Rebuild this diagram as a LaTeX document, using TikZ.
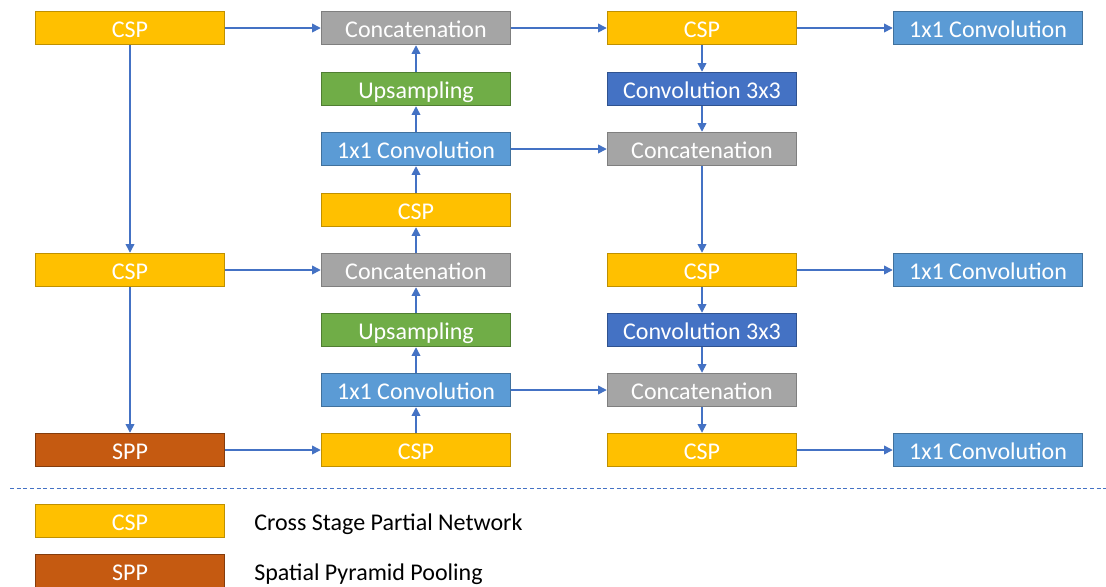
\documentclass[tikz,border=0pt]{standalone}
\usepackage{fontspec}
\setmainfont{Carlito}
\usetikzlibrary{arrows.meta}
\definecolor{cspfill}{HTML}{FFC000}\definecolor{cspdraw}{HTML}{BF9000}
\definecolor{catfill}{HTML}{A5A5A5}\definecolor{catdraw}{HTML}{7F7F7F}
\definecolor{upfill}{HTML}{70AD47}\definecolor{updraw}{HTML}{507E32}
\definecolor{onefill}{HTML}{5B9BD5}\definecolor{onedraw}{HTML}{41719C}
\definecolor{thrfill}{HTML}{4472C4}\definecolor{thrdraw}{HTML}{2F528F}
\definecolor{sppfill}{HTML}{C55A11}\definecolor{sppdraw}{HTML}{843C0C}
\definecolor{arr}{HTML}{4472C4}
\tikzset{
  box/.style={draw, line width=1.1pt, minimum width=141.75pt, minimum height=24.75pt, inner sep=0pt,
    text height=15pt, text depth=1.5pt,
    text=white, font=\fontsize{18}{20}\selectfont},
  csp/.style={box, fill=cspfill, draw=cspdraw},
  cat/.style={box, fill=catfill, draw=catdraw},
  ups/.style={box, fill=upfill, draw=updraw},
  one/.style={box, fill=onefill, draw=onedraw},
  thr/.style={box, fill=thrfill, draw=thrdraw},
  spp/.style={box, fill=sppfill, draw=sppdraw},
  conn/.style={draw=arr, line width=1.1pt, -{Triangle[length=6.5pt,width=6.5pt]}},
  legtext/.style={anchor=west, inner sep=0pt, text height=15pt, text depth=1.5pt, text=black, font=\fontsize{18}{20}\selectfont}
}
\begin{document}
\begin{tikzpicture}[x=0.75pt,y=-0.75pt]
\useasboundingbox (0,0) rectangle (1106,586);
% column 1
\node[csp] (a1) at (130,28) {CSP};
\node[csp] (a5) at (130,270) {CSP};
\node[spp] (a8) at (130,450) {SPP};
% column 2
\node[cat] (b1) at (416,28) {Concatenation};
\node[ups] (b2) at (416,89) {Upsampling};
\node[one] (b3) at (416,149) {1x1 Convolution};
\node[csp] (b4) at (416,210) {CSP};
\node[cat] (b5) at (416,270) {Concatenation};
\node[ups] (b6) at (416,330) {Upsampling};
\node[one] (b7) at (416,390) {1x1 Convolution};
\node[csp] (b8) at (416,450) {CSP};
% column 3
\node[csp] (c1) at (702,28) {CSP};
\node[thr] (c2) at (702,89) {Convolution 3x3};
\node[cat] (c3) at (702,149) {Concatenation};
\node[csp] (c5) at (702,270) {CSP};
\node[thr] (c6) at (702,330) {Convolution 3x3};
\node[cat] (c7) at (702,390) {Concatenation};
\node[csp] (c8) at (702,450) {CSP};
% column 4
\node[one] (d1) at (988,28) {1x1 Convolution};
\node[one] (d5) at (988,270) {1x1 Convolution};
\node[one] (d8) at (988,450) {1x1 Convolution};
% connectors
\draw[conn] (a1) -- (b1);
\draw[conn] (a1) -- (a5);
\draw[conn] (a5) -- (a8);
\draw[conn] (a5) -- (b5);
\draw[conn] (a8) -- (b8);
\draw[conn] (b8) -- (b7);
\draw[conn] (b7) -- (b6);
\draw[conn] (b6) -- (b5);
\draw[conn] (b5) -- (b4);
\draw[conn] (b4) -- (b3);
\draw[conn] (b3) -- (b2);
\draw[conn] (b2) -- (b1);
\draw[conn] (b1) -- (c1);
\draw[conn] (c1) -- (d1);
\draw[conn] (c1) -- (c2);
\draw[conn] (c2) -- (c3);
\draw[conn] (b3) -- (c3);
\draw[conn] (c3) -- (c5);
\draw[conn] (c5) -- (d5);
\draw[conn] (c5) -- (c6);
\draw[conn] (c6) -- (c7);
\draw[conn] (b7) -- (c7);
\draw[conn] (c7) -- (c8);
\draw[conn] (c8) -- (d8);
% separator
\coordinate (sepL) at (10,488);
\coordinate (sepR) at (1106,488);
\draw[arr, line width=0.75pt, dash pattern=on 3pt off 2pt] (sepL) -- (sepR);
% legend
\node[csp] (lcsp) at (130,521) {CSP};
\node[spp] (lspp) at (130,571) {SPP};
\node[legtext] (tcsp) at (254,521) {Cross Stage Partial Network};
\node[legtext] (tspp) at (254,571) {Spatial Pyramid Pooling};
\end{tikzpicture}
\end{document}
